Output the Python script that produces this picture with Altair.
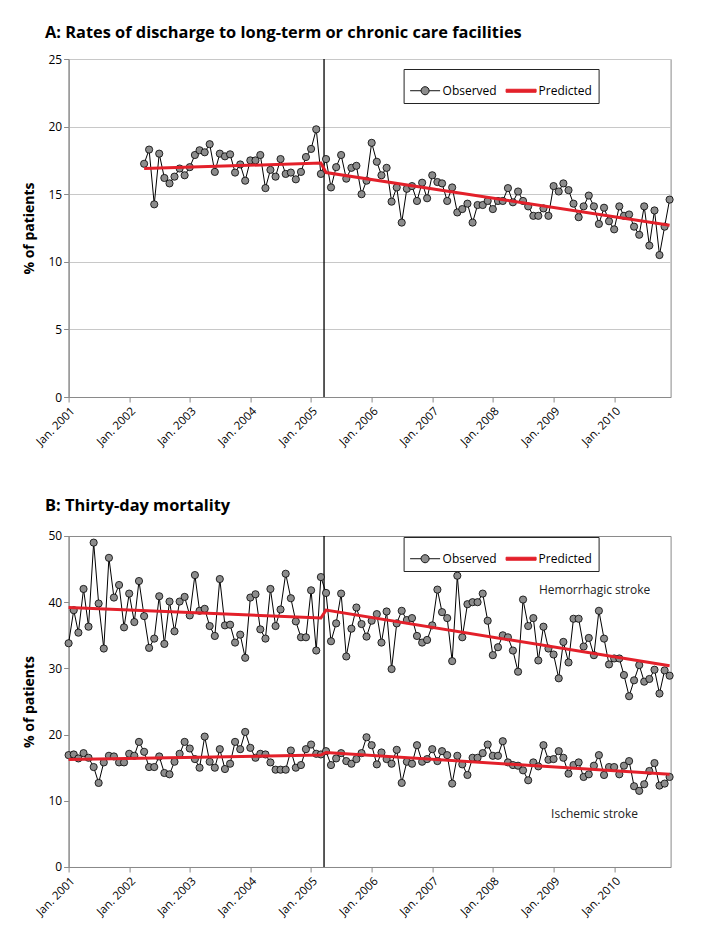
import altair as alt
import pandas as pd

# ---------------- data ----------------
discharge_start = "2002-04-01"
discharge_observed = [
    17.25, 18.3, 14.25, 18.0, 16.2, 15.8, 16.3, 16.9, 16.4,
    17.0, 17.9, 18.25, 18.1, 18.7, 16.65, 18.0, 17.8, 17.95, 16.6, 17.2, 16.0,
    17.5, 17.5, 17.9, 15.45, 16.8, 16.3, 17.6, 16.5, 16.6, 16.1, 16.65, 17.75,
    18.35, 19.8, 16.5, 17.6, 15.5, 17.0, 17.9, 16.15, 16.95, 17.1, 15.0, 16.0,
    18.8, 17.4, 16.4, 16.95, 14.45, 15.5, 12.9, 15.4, 15.6, 14.5, 15.85, 14.7,
    16.4, 15.9, 15.8, 14.5, 15.5, 13.65, 13.9, 14.3, 12.9, 14.2, 14.2, 14.5,
    13.9, 14.5, 14.5, 15.45, 14.4, 15.2, 14.5, 14.1, 13.4, 13.4, 13.95, 13.4,
    15.6, 15.2, 15.8, 15.3, 14.3, 13.3, 14.1, 14.9, 14.1, 12.8, 14.0, 13.0,
    12.4, 14.1, 13.4, 13.5, 12.6, 12.0, 14.1, 11.2, 13.8, 10.5, 12.6, 14.6,
]
discharge_pred_dates = ["2002-04-01", "2005-03-01", "2005-04-01", "2010-12-01"]
discharge_predicted = [16.9, 17.3, 16.6, 12.7]

mortality_start = "2001-01-01"
hemorrhagic_observed = [
    33.8, 38.8, 35.4, 42.0, 36.3, 49.0, 39.8, 33.0, 46.7, 40.7, 42.6, 36.2,
    41.3, 37.0, 43.2, 37.9, 33.1, 34.5, 40.9, 33.7, 40.1, 35.6, 40.1, 40.8,
    38.0, 44.1, 38.7, 39.0, 36.4, 34.9, 43.5, 36.5, 36.6, 33.9, 35.1, 31.6,
    40.7, 41.2, 35.9, 34.5, 42.0, 36.4, 38.9, 44.3, 40.6, 37.1, 34.7, 34.7,
    41.8, 32.7, 43.8, 41.4, 34.1, 36.8, 41.3, 31.8, 36.0, 39.2, 36.7, 34.8,
    37.2, 38.2, 33.9, 38.6, 29.9, 36.8, 38.7, 37.3, 37.6, 34.9, 33.9, 34.3,
    36.5, 41.9, 38.5, 37.6, 31.1, 44.0, 34.7, 39.7, 40.0, 40.0, 41.3, 37.2,
    32.0, 33.2, 35.0, 34.7, 32.7, 29.5, 40.4, 36.4, 37.6, 31.2, 36.3, 33.0,
    32.1, 28.5, 34.0, 30.9, 37.5, 37.5, 33.3, 34.6, 32.0, 38.7, 34.5, 30.6,
    31.5, 31.5, 29.0, 25.8, 28.2, 30.5, 28.0, 28.4, 29.8, 26.2, 29.7, 28.9,
]
ischemic_observed = [
    16.9, 17.0, 16.4, 17.2, 16.5, 15.1, 12.7, 15.8, 16.8, 16.7, 15.8, 15.8,
    17.1, 16.8, 18.9, 17.4, 15.1, 15.1, 16.7, 14.2, 14.0, 15.9, 17.1, 18.9,
    17.9, 16.3, 15.0, 19.7, 15.9, 15.0, 17.8, 14.8, 15.6, 18.9, 17.8, 20.4,
    18.0, 16.5, 17.1, 17.0, 15.8, 14.7, 14.7, 14.7, 17.6, 15.0, 15.4, 17.8,
    18.5, 17.1, 17.0, 17.5, 15.4, 16.4, 17.2, 16.0, 15.6, 16.3, 17.2, 19.6,
    18.4, 15.5, 17.3, 16.3, 15.6, 17.7, 12.7, 15.9, 15.6, 18.4, 15.9, 16.3,
    17.8, 16.0, 17.5, 16.9, 12.6, 16.8, 15.5, 13.9, 16.5, 16.5, 17.2, 18.5,
    16.8, 16.8, 19.0, 15.8, 15.4, 15.3, 14.6, 13.1, 15.8, 15.2, 18.4, 16.2,
    16.3, 17.5, 16.5, 14.1, 15.4, 15.8, 13.6, 14.0, 15.3, 16.9, 13.9, 15.1,
    15.1, 14.0, 15.3, 16.0, 12.2, 11.5, 12.5, 14.5, 15.7, 12.3, 12.6, 13.6,
]
mortality_pred_dates = ["2001-01-01", "2005-03-01", "2005-04-01", "2010-12-01"]
hemorrhagic_predicted = [39.2, 37.6, 38.8, 30.4]
ischemic_predicted = [16.25, 16.9, 17.3, 14.0]

intervention_date = ["2005-03-20"]
year_ticks = list(range(2001, 2011))
a_ticks = [0, 5, 10, 15, 20, 25]
b_ticks = [0, 10, 20, 30, 40, 50]
series_names = ["Observed", "Predicted"]
annotation_labels = ["Hemorrhagic stroke", "Ischemic stroke"]
annotation_dates = ["2009-09-05", "2009-09-05"]
annotation_values = [41.8, 8.0]

# ---------------- tables ----------------
df_a_obs = pd.DataFrame({
    "date": pd.date_range(discharge_start, periods=len(discharge_observed), freq="MS"),
    "value": discharge_observed,
})
df_a_pred = pd.DataFrame({"date": pd.to_datetime(discharge_pred_dates), "value": discharge_predicted})

mort_dates = pd.date_range(mortality_start, periods=len(hemorrhagic_observed), freq="MS")
df_b_obs = pd.concat([
    pd.DataFrame({"date": mort_dates, "value": hemorrhagic_observed, "type": "Hemorrhagic"}),
    pd.DataFrame({"date": mort_dates, "value": ischemic_observed, "type": "Ischemic"}),
])
df_b_pred = pd.concat([
    pd.DataFrame({"date": pd.to_datetime(mortality_pred_dates), "value": hemorrhagic_predicted, "type": "Hemorrhagic"}),
    pd.DataFrame({"date": pd.to_datetime(mortality_pred_dates), "value": ischemic_predicted, "type": "Ischemic"}),
])
df_rule = pd.DataFrame({"date": pd.to_datetime(intervention_date)})
df_text = pd.DataFrame({"label": annotation_labels, "date": pd.to_datetime(annotation_dates), "value": annotation_values})
df_legend = pd.DataFrame({"series": series_names})

# ---------------- style ----------------
FONT = "Open Sans"
RED = "#e3202a"
MARK_FILL = "#8c8c8c"
AXIS_GRAY = "#8a8a8a"
W = 602
OBS_PATH = "M-1,0L-0.27,0M0.27,0L1,0M-0.27,0A0.27,0.27 0 1 1 0.27,0A0.27,0.27 0 1 1 -0.27,0Z"
PRED_PATH = "M-1,-0.1L1,-0.1L1,0.1L-1,0.1Z"

x_scale = alt.Scale(domain=[alt.DateTime(year=2001, month=1, date=1),
                            alt.DateTime(year=2010, month=12, date=7)])
x_axis = alt.Axis(
    values=[alt.DateTime(year=y, month=1, date=1) for y in year_ticks],
    format="Jan. %Y", labelAngle=315, labelAlign="right", labelBaseline="top",
    labelFontSize=11.5, labelFont=FONT, labelColor="black", labelPadding=3,
    tickSize=5, tickColor=AXIS_GRAY, domainColor=AXIS_GRAY, grid=False, title=None,
)


def legend_def(ly):
    return alt.Legend(
        title=None, orient="none", legendX=335, legendY=ly, direction="horizontal",
        fillColor="white", strokeColor="#222222", padding=6, symbolSize=900,
        symbolStrokeWidth=1, labelFont=FONT, labelFontSize=12, labelColor="black",
        columnPadding=6, labelOffset=2,
    )


def panel(obs_df, pred_df, ymax, ticks, grid, title, height, legend_y, title_offset,
          detail=None, texts=None):
    y_scale = alt.Scale(domain=[0, ymax], nice=False)
    y_axis = alt.Axis(
        values=ticks, grid=grid, gridColor="#c8c8c8", title="% of patients",
        titleFontWeight="bold", titleFontSize=14, titleFont=FONT, titleColor="black",
        titlePadding=11.5, labelFontSize=12, labelFont=FONT, labelColor="black",
        tickSize=5, tickColor=AXIS_GRAY, domainColor=AXIS_GRAY,
    )
    xe = alt.X("date:T", scale=x_scale, axis=x_axis, title=None)
    ye = alt.Y("value:Q", scale=y_scale, axis=y_axis, title="% of patients")
    enc = dict(x=xe, y=ye)
    if detail:
        enc["detail"] = alt.Detail(detail)

    obs_line = alt.Chart(obs_df).mark_line(color="black", strokeWidth=1).encode(**enc)
    obs_pts = alt.Chart(obs_df).mark_point(
        shape="circle", filled=True, fill=MARK_FILL, stroke="black", strokeWidth=0.8,
        size=52, opacity=1,
    ).encode(x=xe, y=ye)
    pred_line = alt.Chart(pred_df).mark_line(color=RED, strokeWidth=3).encode(**enc)
    rule = alt.Chart(df_rule).mark_rule(color="black", strokeWidth=1.3).encode(x=xe)
    leg = legend_def(legend_y)
    legend_layer = alt.Chart(df_legend).transform_filter("false").mark_point(
        filled=True, opacity=1
    ).encode(
        shape=alt.Shape("series:N", scale=alt.Scale(domain=series_names, range=[OBS_PATH, PRED_PATH]), legend=leg),
        fill=alt.Fill("series:N", scale=alt.Scale(domain=series_names, range=[MARK_FILL, RED]), legend=leg),
        stroke=alt.Stroke("series:N", scale=alt.Scale(domain=series_names, range=["#111111", RED]), legend=leg),
    )
    layers = [rule, obs_line, obs_pts, pred_line, legend_layer]
    if texts is not None:
        layers.append(
            alt.Chart(texts).mark_text(font=FONT, fontSize=12, color="#222222").encode(
                x=xe, y=ye, text="label:N"
            )
        )
    return alt.layer(*layers).properties(
        width=W, height=height,
        title=alt.TitleParams(title, anchor="start", frame="group", font=FONT, fontSize=16.4,
                              fontWeight="bold", color="black", dx=-23.6, offset=title_offset),
    )


panel_a = panel(df_a_obs, df_a_pred, 25, a_ticks, True,
                "A: Rates of discharge to long-term or chronic care facilities", 338, 10, 12)
panel_b = panel(df_b_obs, df_b_pred, 50, b_ticks, False,
                "B: Thirty-day mortality", 331, 1, 16, detail="type:N", texts=df_text)

chart = alt.vconcat(panel_a, panel_b, spacing=48).resolve_scale(
    y="independent", shape="independent", fill="independent", stroke="independent"
).resolve_legend(
    shape="independent", fill="independent", stroke="independent"
).configure_view(
    fill="#f2f2f2", stroke=AXIS_GRAY, strokeWidth=1
).properties(
    padding={"left": 13.6, "top": 16, "right": 5, "bottom": 5}
)

chart.save("out.html", embed_options={"renderer": "svg", "actions": False})
